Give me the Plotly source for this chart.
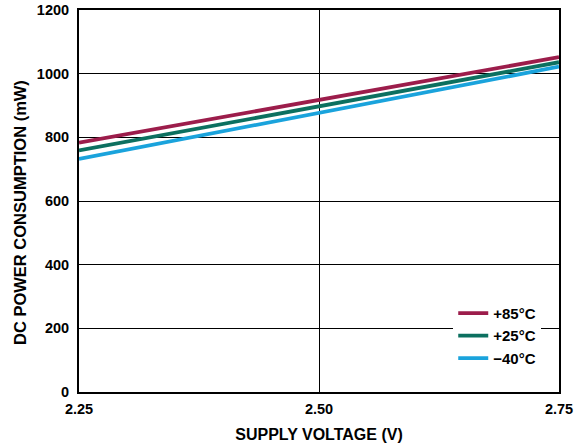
import plotly.graph_objects as go

voltage = [2.25, 2.75]
p_85 = [783, 1052]
p_25 = [759, 1036]
p_m40 = [732, 1022]
series_names = ["+85°C", "+25°C", "\u221240°C"]
colors = ["#9c1d4b", "#0c7060", "#1aa3dc"]
x_ticks = [2.25, 2.5, 2.75]
x_ticklabels = ["2.25", "2.50", "2.75"]
y_ticks = [0, 200, 400, 600, 800, 1000, 1200]
x_title = "SUPPLY VOLTAGE (V)"
y_title = "DC POWER CONSUMPTION (mW)"

fig = go.Figure()
for name, ys, c in zip(series_names, [p_85, p_25, p_m40], colors):
    fig.add_trace(go.Scatter(x=voltage, y=ys, mode="lines", name=name,
                             line=dict(color=c, width=3.8)))

FAM = "Liberation Sans, Arial, sans-serif"
fig.update_layout(
    width=584, height=447,
    margin=dict(l=79, r=25, t=10, b=55, autoexpand=False),
    paper_bgcolor="white", plot_bgcolor="white",
    font=dict(family=FAM, size=14, color="black"),
    showlegend=True,
    legend=dict(x=0.963, y=0.045, xanchor="right", yanchor="bottom",
                bgcolor="white", borderwidth=0,
                font=dict(family=FAM, size=15, color="black", weight="bold"),
                itemwidth=30, tracegroupgap=0),
    xaxis=dict(range=[2.25, 2.75], tickvals=x_ticks, ticktext=x_ticklabels,
               showgrid=True, gridcolor="black", gridwidth=1,
               showline=True, linecolor="black", linewidth=2, mirror=True,
               ticks="", zeroline=False, automargin=False, ticklabelstandoff=3,
               tickfont=dict(size=14.5, weight="bold"),
               title=dict(text="<b>" + x_title + "</b>", font=dict(size=16), standoff=12)),
    yaxis=dict(range=[0, 1200], tickvals=y_ticks,
               showgrid=True, gridcolor="black", gridwidth=1,
               showline=True, linecolor="black", linewidth=2, mirror=True,
               ticks="", zeroline=False, automargin=False, ticklabelstandoff=5,
               tickfont=dict(size=14.5, weight="bold")),
    annotations=[dict(text="<b>" + y_title + "</b>", textangle=-90,
                      xref="paper", yref="paper", x=-0.123, y=0.471,
                      xanchor="center", yanchor="middle", showarrow=False,
                      font=dict(family=FAM, size=16.5, color="black"))],
)
fig.write_html("out.html", config={"displayModeBar": False},
               post_script="document.body.style.margin='0';document.body.style.overflow='hidden';")
